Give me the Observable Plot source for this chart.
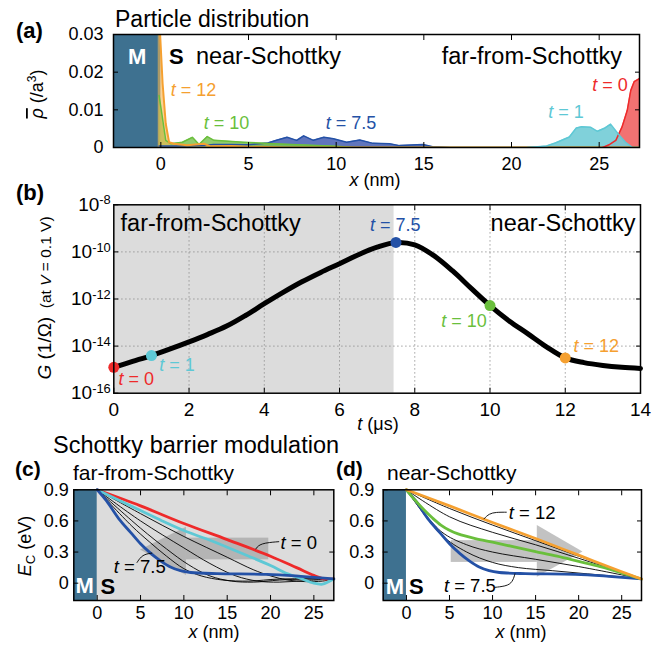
<!DOCTYPE html>
<html><head><meta charset="utf-8">
<script src="https://cdn.jsdelivr.net/npm/d3@7"></script>
<script src="https://cdn.jsdelivr.net/npm/@observablehq/plot@0.6"></script>
<style>
body{margin:0;background:#fff;}
#wrap{position:relative;width:670px;height:645px;overflow:hidden;background:#fff;}
</style></head><body><div id="wrap"></div>
<script>
// ---------------- data ----------------
// (a) particle density rho (/a^3) vs x (nm) at times t (µs)
const rho_t0  = [[25.2,0],[25.6,0.0008],[25.95,0.0019],[26.3,0.0054],[26.6,0.0098],[26.8,0.0151],[27.0,0.0175],[27.3,0.0183]];
const rho_t1  = [[20.9,0],[21.5,0.0002],[22,0.0004],[22.5,0.0012],[23,0.0022],[23.3,0.0028],[23.7,0.0052],[24.0,0.0055],[24.5,0.0054],[24.9,0.0043],[25.3,0.0051],[25.65,0.0062],[26.1,0.0035],[26.5,0.0014],[26.9,0],[27.3,0]];
const rho_t75 = [[-0.1,0.0004],[1,0.0004],[2.5,0.0005],[3,0.0008],[4,0.0008],[5,0.0007],[5.6,0.001],[6.1,0.0012],[6.6,0.0019],[7.2,0.0027],[7.75,0.0019],[8.15,0.0031],[8.7,0.0019],[9.3,0.0027],[9.85,0.0023],[10.6,0.0014],[11.35,0.002],[12.1,0.0011],[13.05,0.001],[13.6,0.0005],[14.95,0.0008],[15.5,0.0002],[16.5,0],[27.3,0]];
const rho_t10 = [[-0.1,0.0138],[0,0.0107],[0.28,0.0019],[0.57,0.001],[1.23,0.0014],[1.8,0.0027],[2.18,0.0008],[2.65,0.0029],[3.03,0.0019],[4.7,0.0014],[6.4,0.001],[8.5,0.0006],[10,0.0003],[11,0],[27.3,0]];
const rho_t12 = [[-0.15,0.04],[0.1,0.017],[0.28,0.0063],[0.47,0.0014],[0.76,0.001],[1.5,0.0006],[2.46,0.001],[2.84,0.0003],[4,0.0004],[5,0.0002],[6,0.0001],[7,0],[27.3,0]];

// (b) conductance G (1/Ohm) vs t (µs), stored as log10
const tUs  = [0,0.5,1,1.5,2,2.5,3,3.5,4,4.5,5,5.5,6,6.5,7,7.5,8,8.5,9,9.5,10,10.5,11,11.5,12,12.5,13,13.5,14];
const logG = [-14.9,-14.65,-14.4,-14.12,-13.82,-13.5,-13.15,-12.7,-12.2,-11.72,-11.27,-10.87,-10.5,-10.12,-9.8,-9.6,-9.7,-10.15,-10.8,-11.55,-12.28,-12.92,-13.47,-14.03,-14.5,-14.7,-14.82,-14.9,-14.95];
const markT    = [0,1,7.5,10,12];
const markLogG = [-14.9,-14.4,-9.6,-12.28,-14.5];

// (c),(d) conduction band edge E_C (eV) vs x (nm)
const ec_t0  = [[0,0.9],[5,0.745],[10,0.575],[15,0.42],[20,0.26],[23,0.15],[25,0.075],[26,0.045],[27.3,0.04]];
const ec_t1  = [[0,0.9],[2.5,0.8],[5,0.7],[7.5,0.6],[10,0.507],[12.5,0.43],[15,0.347],[17.5,0.26],[20,0.17],[22,0.09],[23.5,0.045],[25,0.0],[26,-0.01],[26.7,0.015],[27.3,0.04]];
const ec_t75 = [[0,0.9],[1.1,0.79],[2.5,0.62],[3.85,0.49],[5,0.38],[6.15,0.29],[7.3,0.215],[8.45,0.155],[9.6,0.12],[10.8,0.103],[13.8,0.092],[19.6,0.085],[23.5,0.066],[27.3,0.042]];
const ec_c_mid = [
  [[0,0.9],[5,0.67],[10,0.45],[15,0.25],[18,0.13],[20,0.07],[22,0.03],[24,0.015],[26,0.02],[27.3,0.04]],
  [[0,0.9],[5,0.6],[10,0.34],[13,0.19],[16,0.07],[18.5,0.02],[21,0.01],[24,0.025],[27.3,0.04]],
  [[0,0.9],[5,0.53],[8,0.33],[10.5,0.18],[13,0.07],[15.5,0.02],[18,0.01],[21,0.03],[24,0.04],[27.3,0.04]],
  [[0,0.9],[4,0.55],[6,0.4],[8,0.26],[10,0.14],[12,0.07],[14.5,0.03],[17.5,0.02],[21,0.04],[27.3,0.04]]
];
const ec_t10 = [[0,0.9],[1,0.8],[2,0.71],[3,0.63],[4,0.56],[5,0.51],[6,0.475],[8,0.43],[10,0.395],[12.5,0.35],[15,0.305],[17.5,0.26],[20,0.21],[22.5,0.16],[25,0.1],[27.3,0.04]];
const ec_t12 = [[0,0.9],[5,0.745],[10,0.585],[15,0.43],[20,0.27],[25,0.11],[27.3,0.04]];
const ec_d_mid = [
  [[0,0.9],[5,0.72],[10,0.56],[15,0.41],[20,0.26],[25,0.11],[27.3,0.04]],
  [[0,0.9],[5,0.64],[10,0.49],[15,0.37],[20,0.24],[25,0.105],[27.3,0.04]],
  [[0,0.9],[4,0.5],[7,0.37],[10,0.3],[15,0.23],[20,0.16],[25,0.08],[27.3,0.04]],
  [[0,0.9],[4,0.47],[7,0.3],[10,0.2],[13,0.15],[17,0.12],[21,0.09],[25,0.06],[27.3,0.04]]
];

// ticks / ranges
const xDomain = [-2.7, 27.3];
const metalX = [-2.7, 0];
const xTicks = [0,5,10,15,20,25];
const rhoTicks = [0,0.01,0.02,0.03];
const tTicks = [0,2,4,6,8,10,12,14];
const gTicks = [1e-16,1e-14,1e-12,1e-10,1e-8];
const ecTicks = [0,0.3,0.6,0.9];
const ecDomain = [-0.167, 0.9];
const shadeT = [0, 7.45];

// ---------------- style ----------------
const RED="#ee2a2a", CYAN="#5ec8d5", BLUE="#2451a6", GREEN="#6abf3c", ORANGE="#f5a030";
const MCOL="#3e7190", SHADE="#dcdcdc";
const FONT='"Liberation Sans", Arial, Helvetica, sans-serif';
const wrap=document.getElementById("wrap");
const P=d=>d[0], V=d=>d[1];

function axes({xt, xi, yt, yi, xf, yf, xPad, yPad, fs=18}) {
  return [
    Plot.axisX({ticks: xt, tickSize: -5, tickPadding: xPad, tickFormat: xf, fontSize: fs, label: null}),
    Plot.axisX({anchor: "top", ticks: xi, tickSize: -5, tickFormat: () => "", label: null}),
    Plot.axisY({ticks: yt, tickSize: -5, tickPadding: yPad, tickFormat: yf, fontSize: fs, label: null}),
    Plot.axisY({anchor: "right", ticks: yi, tickSize: -5, tickFormat: () => "", label: null}),
    Plot.frame({stroke: "black", strokeWidth: 1.5})
  ];
}
function texts(list, yf = d => d.y) {
  return list.map(d => Plot.text([d], {x: "x", y: yf, text: "s", fill: d.c ?? "black",
    fontSize: d.f ?? 18, fontWeight: d.w ?? "normal", textAnchor: d.a ?? "start", lineAnchor: "bottom"}));
}
function finish(svg, left, top) {
  svg.querySelectorAll("text").forEach(t => {
    const s = t.textContent;
    if (s.startsWith("t = ")) t.innerHTML = '<tspan font-style="italic">t</tspan>' + s.slice(1);
    const m = /^10\^(-?\d+)$/.exec(s);
    if (m) t.innerHTML = '10<tspan dy="-0.5em" font-size="0.68em">' + m[1] + '</tspan>';
  });
  svg.style.position = "absolute"; svg.style.left = left + "px"; svg.style.top = top + "px";
  svg.style.background = "transparent"; svg.style.maxWidth = "none";
  wrap.appendChild(svg);
}
const baseStyle = {fontFamily: FONT, fontSize: "18px", color: "black", background: "transparent", overflow: "visible"};
const fmt = d => d === 0 ? "0" : String(d);

// ---------------- (a) ----------------
const annA = [
  {x:-1.35, y:0.0223, s:"M", c:"white", w:"bold", a:"middle", f:22},
  {x:0.46, y:0.0223, s:"S", w:"bold", f:22},
  {x:2.0, y:0.0223, s:"near-Schottky", f:23.5},
  {x:26.3, y:0.0222, s:"far-from-Schottky", a:"end", f:23.5},
  {x:0.57, y:0.0138, s:"t = 12", c:ORANGE},
  {x:2.45, y:0.005, s:"t = 10", c:GREEN},
  {x:9.4, y:0.0048, s:"t = 7.5", c:BLUE},
  {x:22.1, y:0.0077, s:"t = 1", c:CYAN},
  {x:24.6, y:0.0151, s:"t = 0", c:RED}
];
const pa = Plot.plot({
  width: 670, height: 195, marginTop: 34, marginBottom: 48, marginLeft: 113, marginRight: 31,
  style: baseStyle,
  x: {domain: xDomain}, y: {domain: [0, 0.03]},
  marks: [
    Plot.rect([metalX], {x1: P, x2: V, y1: rhoTicks[0], y2: rhoTicks[3], fill: MCOL}),
    Plot.areaY(rho_t75, {x: P, y: V, fill: "#4f66b6", fillOpacity: 0.9, clip: true}),
    Plot.areaY(rho_t10, {x: P, y: V, fill: "#7cc353", fillOpacity: 0.85, clip: true}),
    Plot.areaY(rho_t12, {x: P, y: V, fill: "#f7b650", fillOpacity: 0.6, clip: true}),
    Plot.areaY(rho_t0, {x: P, y: V, fill: "#f27272", clip: true}),
    Plot.areaY(rho_t1, {x: P, y: V, fill: "#72ccd6", fillOpacity: 0.9, clip: true}),
    Plot.line(rho_t75, {x: P, y: V, stroke: BLUE, strokeWidth: 1.5, clip: true}),
    Plot.line(rho_t10, {x: P, y: V, stroke: GREEN, strokeWidth: 1.5, clip: true}),
    Plot.line(rho_t12, {x: P, y: V, stroke: ORANGE, strokeWidth: 2, clip: true}),
    Plot.line(rho_t0, {x: P, y: V, stroke: RED, strokeWidth: 1.5, clip: true}),
    Plot.line(rho_t1, {x: P, y: V, stroke: CYAN, strokeWidth: 1.5, clip: true}),
    ...texts(annA),
    ...axes({xt: xTicks, xi: xTicks.slice(1), yt: rhoTicks, yi: rhoTicks.slice(1, -1), xf: fmt, yf: fmt, xPad: 14.5, yPad: 15})
  ]
});
finish(pa, 0, 0);

// ---------------- (b) ----------------
const gData = tUs.map((t, i) => ({t, g: 10 ** logG[i]}));
const markCol = [RED, CYAN, BLUE, GREEN, ORANGE];
const markData = markT.map((t, i) => ({t, g: 10 ** markLogG[i], c: markCol[i]}));
const annB = [
  {x:0.18, y:-9.13, s:"far-from-Schottky", f:23.5},
  {x:13.87, y:-9.13, s:"near-Schottky", a:"end", f:23.5},
  {x:7.48, y:-9.13, s:"t = 7.5", c:BLUE, a:"middle"},
  {x:9.31, y:-13.2, s:"t = 10", c:GREEN, a:"middle"},
  {x:12.22, y:-14.26, s:"t = 12", c:ORANGE},
  {x:0.125, y:-15.67, s:"t = 0", c:RED},
  {x:1.21, y:-15.04, s:"t = 1", c:CYAN}
];
const pb = Plot.plot({
  width: 670, height: 250, marginTop: 9.3, marginBottom: 52.3, marginLeft: 113.3, marginRight: 30,
  style: baseStyle,
  x: {domain: [0, 14]}, y: {type: "log", domain: [1e-16, 1e-8]},
  color: {type: "identity"},
  marks: [
    Plot.rect([shadeT], {x1: P, x2: V, y1: gTicks[0], y2: gTicks[4], fill: SHADE}),
    Plot.gridX(tTicks.slice(1, -1), {stroke: "#8a8a8a", strokeOpacity: 1, strokeDasharray: "1.2,2.8"}),
    Plot.gridY(gTicks.slice(1, -1), {stroke: "#8a8a8a", strokeOpacity: 1, strokeDasharray: "1.2,2.8"}),
    Plot.line(gData, {x: "t", y: "g", stroke: "black", strokeWidth: 5, curve: "catmull-rom"}),
    Plot.dot(markData, {x: "t", y: "g", r: 5.5, fill: "c", stroke: "none"}),
    ...texts(annB, d => 10 ** d.y),
    ...axes({xt: tTicks, xi: tTicks.slice(1, -1), yt: gTicks, yi: gTicks.slice(1, -1), xf: fmt,
      yf: d => "10^" + Math.round(Math.log10(d)), xPad: 14.5, yPad: 8, fs: 19})
  ]
});
finish(pb, 0, 195);

// ---------------- (c) ----------------
const annC = [
  {x:-1.44, y:-0.096, s:"M", c:"white", w:"bold", a:"middle", f:22},
  {x:0.38, y:-0.102, s:"S", w:"bold", f:22},
  {x:21.15, y:0.325, s:"t = 0", f:18.5},
  {x:1.92, y:0.096, s:"t = 7.5", f:18.5}
];
const ARROW = "#999";
const pc = Plot.plot({
  width: 335, height: 200, marginTop: 44.3, marginBottom: 45, marginLeft: 73.3, marginRight: 1.7,
  style: baseStyle,
  x: {domain: xDomain}, y: {domain: ecDomain},
  marks: [
    Plot.frame({fill: SHADE, stroke: "none"}),
    Plot.rect([metalX], {x1: P, x2: V, y1: ecDomain[0], y2: ecDomain[1], fill: MCOL}),
    Plot.areaY([{x: 5.0, y1: 0.32, y2: 0.32}, {x: 10.3, y1: 0.074, y2: 0.54}], {x: "x", y1: "y1", y2: "y2", fill: ARROW, fillOpacity: 0.6}),
    Plot.rect([{x1: 10.3, x2: 19.8, y1: 0.225, y2: 0.434}], {x1: "x1", x2: "x2", y1: "y1", y2: "y2", fill: ARROW, fillOpacity: 0.6}),
    ...ec_c_mid.map(c => Plot.line(c, {x: P, y: V, stroke: "black", strokeWidth: 0.9, curve: "catmull-rom"})),
    Plot.line(ec_t0, {x: P, y: V, stroke: RED, strokeWidth: 2.8, curve: "catmull-rom"}),
    Plot.line(ec_t1, {x: P, y: V, stroke: CYAN, strokeWidth: 2.8, curve: "catmull-rom"}),
    Plot.line(ec_t75, {x: P, y: V, stroke: BLUE, strokeWidth: 2.8, curve: "catmull-rom"}),
    Plot.line([[18.3,0.33],[18.8,0.385],[20.95,0.4]], {x: P, y: V, stroke: "black", strokeWidth: 0.9, curve: "basis"}),
    Plot.line([[4.6,0.2],[5.2,0.275],[6.3,0.29]], {x: P, y: V, stroke: "black", strokeWidth: 0.9, curve: "basis"}),
    ...texts(annC),
    ...axes({xt: xTicks, xi: xTicks.slice(1), yt: ecTicks, yi: ecTicks.slice(1, -1), xf: fmt, yf: fmt, xPad: 11, yPad: 10})
  ]
});
finish(pc, 0, 445);

// ---------------- (d) ----------------
const annD = [
  {x:-1.35, y:-0.1, s:"M", c:"white", w:"bold", a:"middle", f:22},
  {x:0.3, y:-0.1, s:"S", w:"bold", f:22},
  {x:11.88, y:0.623, s:"t = 12", f:18.5},
  {x:4.35, y:-0.087, s:"t = 7.5", f:18.5}
];
const pd = Plot.plot({
  width: 335, height: 200, marginTop: 44.3, marginBottom: 45, marginLeft: 47.7, marginRight: 29,
  style: baseStyle,
  x: {domain: xDomain}, y: {domain: ecDomain},
  marks: [
    Plot.rect([metalX], {x1: P, x2: V, y1: ecDomain[0], y2: ecDomain[1], fill: MCOL}),
    Plot.rect([{x1: 5.2, x2: 15.2, y1: 0.2, y2: 0.41}], {x1: "x1", x2: "x2", y1: "y1", y2: "y2", fill: ARROW, fillOpacity: 0.6}),
    Plot.areaY([{x: 15.2, y1: 0.058, y2: 0.556}, {x: 20.5, y1: 0.3, y2: 0.3}], {x: "x", y1: "y1", y2: "y2", fill: ARROW, fillOpacity: 0.6}),
    ...ec_d_mid.map(c => Plot.line(c, {x: P, y: V, stroke: "black", strokeWidth: 0.9, curve: "catmull-rom"})),
    Plot.line(ec_t75, {x: P, y: V, stroke: BLUE, strokeWidth: 2.8, curve: "catmull-rom"}),
    Plot.line(ec_t10, {x: P, y: V, stroke: GREEN, strokeWidth: 2.8, curve: "catmull-rom"}),
    Plot.line(ec_t12, {x: P, y: V, stroke: ORANGE, strokeWidth: 2.8, curve: "catmull-rom"}),
    Plot.line([[9.0,0.62],[9.6,0.67],[10.4,0.684],[11.6,0.684]], {x: P, y: V, stroke: "black", strokeWidth: 0.9, curve: "basis"}),
    Plot.line([[10.3,-0.04],[11.9,-0.025],[12.4,0.03],[12.6,0.09]], {x: P, y: V, stroke: "black", strokeWidth: 0.9, curve: "basis"}),
    ...texts(annD),
    ...axes({xt: xTicks, xi: xTicks.slice(1), yt: ecTicks, yi: ecTicks.slice(1, -1), xf: fmt, yf: fmt, xPad: 11, yPad: 14})
  ]
});
finish(pd, 335, 445);

// ---------------- overlay labels ----------------
const ov = d3.create("svg").attr("width", 670).attr("height", 645)
  .attr("font-family", FONT).attr("fill", "black")
  .style("position", "absolute").style("left", "0px").style("top", "0px").style("pointer-events", "none");
function label(x, y, html, {size = 18, anchor = "start", weight = "normal", rotate = 0} = {}) {
  const t = ov.append("text").attr("x", x).attr("y", y).attr("font-size", size)
    .attr("text-anchor", anchor).attr("font-weight", weight).html(html);
  if (rotate) t.attr("transform", `rotate(${rotate},${x},${y})`);
}
label(16, 38, "(a)", {size: 22, weight: "bold"});
label(115, 27, "Particle distribution", {size: 23});
label(43, 94, '<tspan font-style="italic" style="text-decoration:overline">ρ</tspan> (/a<tspan dy="-7" font-size="12">3</tspan><tspan dy="7">)</tspan>', {size: 18, anchor: "middle", rotate: -90});
label(375, 186, '<tspan font-style="italic">x</tspan> (nm)', {size: 18, anchor: "middle"});
label(16, 200, "(b)", {size: 22, weight: "bold"});
label(51, 298, '<tspan font-style="italic">G</tspan> (1/Ω)<tspan font-size="15.5">&#160;&#160;(at <tspan font-style="italic">V</tspan> = 0.1 V)</tspan>', {size: 19, anchor: "middle", rotate: -90});
label(378, 430, '<tspan font-style="italic">t</tspan> (μs)', {size: 18, anchor: "middle"});
label(53, 453, "Schottky barrier modulation", {size: 23.5});
label(15, 476, "(c)", {size: 21, weight: "bold"});
label(73, 480, "far-from-Schottky", {size: 21});
label(31, 546, '<tspan font-style="italic">E</tspan><tspan font-size="13" dy="4">C</tspan><tspan dy="-4"> (eV)</tspan>', {size: 18, anchor: "middle", rotate: -90});
label(214, 638, '<tspan font-style="italic">x</tspan> (nm)', {size: 18, anchor: "middle"});
label(336, 476, "(d)", {size: 21, weight: "bold"});
label(387, 480, "near-Schottky", {size: 21});
label(521, 638, '<tspan font-style="italic">x</tspan> (nm)', {size: 18, anchor: "middle"});
wrap.appendChild(ov.node());
</script></body></html>
